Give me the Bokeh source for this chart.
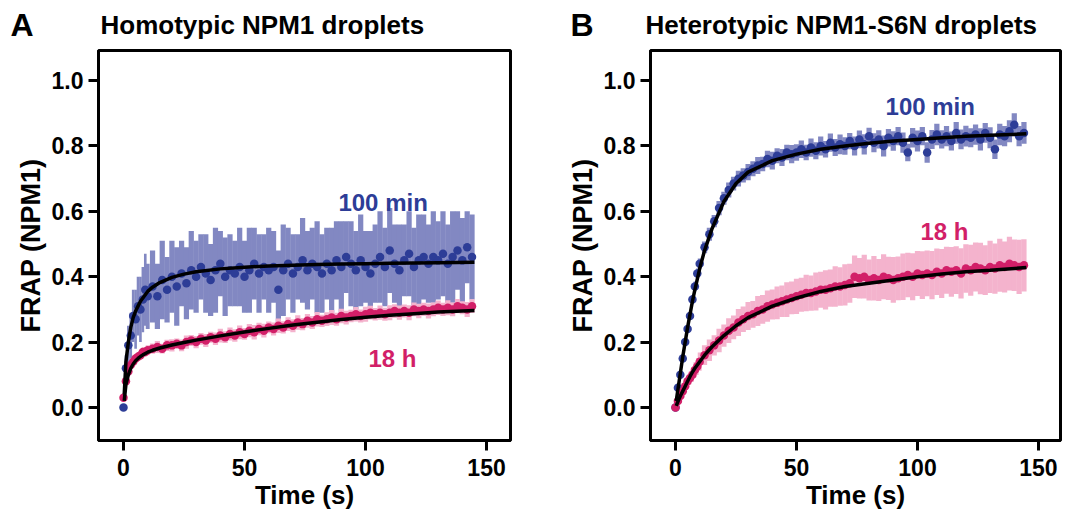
import numpy as np
from bokeh.plotting import figure
from bokeh.layouts import row, column
from bokeh.models import Label, NumeralTickFormatter, FixedTicker, Range1d
from bokeh.core.properties import value
from bokeh.embed import file_html
from bokeh.resources import INLINE

# ---------------- data ----------------
T = [0, 1, 2, 3, 4, 5, 6, 7, 8, 9, 10,
     12, 14, 16, 18, 20, 22, 24, 26, 28, 30,
     32, 34, 36, 38, 40, 42, 44, 46, 48, 50,
     52, 54, 56, 58, 60, 62, 64, 66, 68, 70,
     72, 74, 76, 78, 80, 82, 84, 86, 88, 90,
     92, 94, 96, 98, 100, 102, 104, 106, 108, 110,
     112, 114, 116, 118, 120, 122, 124, 126, 128, 130,
     132, 134, 136, 138, 140, 142, 144]

# Panel A, 100 min (blue)
A_blue = [0.00, 0.12, 0.19, 0.22, 0.28, 0.27, 0.31, 0.30, 0.33, 0.36, 0.34,
          0.37, 0.34, 0.39, 0.36, 0.40, 0.37, 0.41, 0.38, 0.42, 0.40,
          0.43, 0.41, 0.39, 0.42, 0.44, 0.40, 0.42, 0.41, 0.43, 0.40,
          0.42, 0.44, 0.41, 0.43, 0.42, 0.43, 0.36, 0.42, 0.44, 0.41,
          0.43, 0.45, 0.42, 0.44, 0.43, 0.41, 0.44, 0.42, 0.45, 0.43,
          0.46, 0.44, 0.42, 0.45, 0.43, 0.41, 0.44, 0.46, 0.43, 0.48,
          0.44, 0.42, 0.45, 0.47, 0.43, 0.45, 0.46, 0.44, 0.46, 0.45,
          0.47, 0.44, 0.46, 0.48, 0.45, 0.49, 0.46]
A_blue_err = [0.00, 0.04, 0.06, 0.07, 0.08, 0.09, 0.09, 0.10, 0.10, 0.11, 0.10,
              0.11, 0.10, 0.12, 0.10, 0.11, 0.12, 0.10, 0.11, 0.12, 0.11,
              0.10, 0.12, 0.11, 0.13, 0.10, 0.12, 0.11, 0.10, 0.12, 0.11,
              0.13, 0.11, 0.12, 0.10, 0.13, 0.11, 0.12, 0.14, 0.11, 0.12,
              0.10, 0.13, 0.12, 0.11, 0.14, 0.12, 0.11, 0.13, 0.12, 0.14,
              0.11, 0.13, 0.12, 0.14, 0.11, 0.13, 0.12, 0.14, 0.12, 0.13,
              0.12, 0.14, 0.11, 0.13, 0.12, 0.14, 0.13, 0.12, 0.14, 0.12,
              0.13, 0.12, 0.14, 0.12, 0.13, 0.11, 0.13]
# Panel A, 18 h (pink)
A_pink = [0.03, 0.08, 0.11, 0.13, 0.14, 0.15, 0.155, 0.16, 0.17, 0.17, 0.175,
          0.18, 0.185, 0.18, 0.19, 0.19, 0.195, 0.19, 0.20, 0.205, 0.20,
          0.21, 0.205, 0.215, 0.21, 0.22, 0.215, 0.225, 0.22, 0.23, 0.225,
          0.235, 0.23, 0.24, 0.235, 0.245, 0.24, 0.25, 0.245, 0.255, 0.25,
          0.26, 0.255, 0.265, 0.26, 0.27, 0.265, 0.27, 0.275, 0.27, 0.28,
          0.275, 0.28, 0.285, 0.28, 0.285, 0.29, 0.285, 0.29, 0.285, 0.29,
          0.295, 0.29, 0.295, 0.29, 0.30, 0.295, 0.30, 0.295, 0.30, 0.305,
          0.30, 0.305, 0.30, 0.31, 0.305, 0.30, 0.31]
A_pink_err = [0.00, 0.010, 0.010, 0.012, 0.012, 0.013, 0.013, 0.014, 0.014, 0.015, 0.015,
              0.016, 0.018, 0.015, 0.017, 0.019, 0.016, 0.018, 0.020, 0.017, 0.019,
              0.018, 0.020, 0.017, 0.019, 0.021, 0.018, 0.020, 0.019, 0.021, 0.018,
              0.020, 0.022, 0.019, 0.021, 0.018, 0.020, 0.022, 0.019, 0.021, 0.020,
              0.022, 0.019, 0.021, 0.020, 0.022, 0.019, 0.021, 0.023, 0.020, 0.022,
              0.021, 0.019, 0.022, 0.020, 0.023, 0.021, 0.019, 0.022, 0.020, 0.023,
              0.021, 0.022, 0.020, 0.023, 0.021, 0.022, 0.020, 0.023, 0.021, 0.022,
              0.020, 0.023, 0.021, 0.022, 0.020, 0.023, 0.021]

# Panel B, 100 min (blue)
B_blue = [0.00, 0.06, 0.10, 0.15, 0.20, 0.24, 0.28, 0.33, 0.37, 0.41, 0.44,
          0.49, 0.53, 0.57, 0.61, 0.64, 0.665, 0.685, 0.70, 0.71, 0.72,
          0.73, 0.74, 0.745, 0.76, 0.755, 0.77, 0.765, 0.78, 0.775, 0.78,
          0.79, 0.78, 0.795, 0.785, 0.80, 0.79, 0.81, 0.795, 0.805, 0.80,
          0.815, 0.80, 0.82, 0.805, 0.83, 0.81, 0.82, 0.80, 0.825, 0.815,
          0.83, 0.81, 0.78, 0.825, 0.815, 0.83, 0.78, 0.82, 0.835, 0.82,
          0.83, 0.815, 0.84, 0.82, 0.83, 0.825, 0.835, 0.82, 0.84, 0.825,
          0.79, 0.835, 0.83, 0.845, 0.865, 0.83, 0.84]
B_blue_err = [0.00, 0.005, 0.008, 0.010, 0.010, 0.012, 0.012, 0.014, 0.015, 0.015, 0.016,
              0.018, 0.020, 0.019, 0.022, 0.020, 0.023, 0.021, 0.024, 0.022, 0.025,
              0.023, 0.026, 0.022, 0.025, 0.027, 0.023, 0.026, 0.024, 0.028, 0.025,
              0.027, 0.024, 0.028, 0.026, 0.029, 0.025, 0.028, 0.026, 0.030, 0.027,
              0.025, 0.029, 0.027, 0.031, 0.026, 0.029, 0.028, 0.032, 0.027, 0.030,
              0.028, 0.031, 0.027, 0.030, 0.032, 0.028, 0.031, 0.029, 0.033, 0.028,
              0.031, 0.029, 0.033, 0.030, 0.032, 0.029, 0.031, 0.034, 0.030, 0.032,
              0.030, 0.033, 0.031, 0.034, 0.035, 0.031, 0.033]
# Panel B, 18 h (pink)
B_pink = [0.00, 0.02, 0.035, 0.05, 0.065, 0.08, 0.09, 0.10, 0.115, 0.125, 0.14,
          0.16, 0.175, 0.19, 0.205, 0.22, 0.235, 0.245, 0.26, 0.27, 0.28,
          0.285, 0.295, 0.30, 0.31, 0.315, 0.32, 0.325, 0.33, 0.335, 0.34,
          0.345, 0.35, 0.35, 0.355, 0.36, 0.36, 0.365, 0.37, 0.37, 0.375,
          0.38, 0.40, 0.395, 0.40, 0.39, 0.395, 0.39, 0.40, 0.395, 0.39,
          0.395, 0.40, 0.405, 0.40, 0.41, 0.405, 0.41, 0.405, 0.415, 0.41,
          0.42, 0.415, 0.42, 0.41, 0.425, 0.42, 0.43, 0.425, 0.42, 0.43,
          0.425, 0.435, 0.43, 0.44, 0.435, 0.43, 0.435]
B_pink_err = [0.00, 0.005, 0.010, 0.012, 0.015, 0.017, 0.020, 0.022, 0.024, 0.026, 0.028,
              0.030, 0.033, 0.031, 0.036, 0.034, 0.038, 0.036, 0.041, 0.039, 0.043,
              0.041, 0.046, 0.044, 0.048, 0.046, 0.050, 0.048, 0.053, 0.050, 0.054,
              0.052, 0.056, 0.054, 0.058, 0.055, 0.060, 0.057, 0.062, 0.059, 0.063,
              0.060, 0.065, 0.062, 0.067, 0.063, 0.068, 0.064, 0.069, 0.066, 0.070,
              0.067, 0.071, 0.068, 0.072, 0.069, 0.073, 0.070, 0.074, 0.071, 0.075,
              0.072, 0.076, 0.073, 0.077, 0.074, 0.078, 0.075, 0.079, 0.076, 0.080,
              0.077, 0.081, 0.078, 0.082, 0.079, 0.083, 0.080]

# fitted curves
FIT_T = [0.3, 1, 2, 3, 4, 5, 6, 7, 8, 10, 12, 15, 20, 25, 30, 40, 50, 60, 70, 80,
         90, 100, 110, 120, 130, 145]
A_blue_fit = [0.04, 0.14, 0.20, 0.245, 0.275, 0.295, 0.31, 0.325, 0.335, 0.355, 0.368,
              0.382, 0.398, 0.408, 0.415, 0.424, 0.429, 0.433, 0.435, 0.437, 0.439,
              0.440, 0.441, 0.442, 0.443, 0.444]
A_pink_fit = [0.02, 0.07, 0.10, 0.12, 0.133, 0.143, 0.15, 0.156, 0.161, 0.169, 0.175,
              0.182, 0.191, 0.199, 0.206, 0.219, 0.231, 0.242, 0.252, 0.261, 0.269,
              0.276, 0.282, 0.287, 0.292, 0.297]
B_blue_fit = [0.02, 0.055, 0.105, 0.155, 0.20, 0.245, 0.285, 0.325, 0.36, 0.425, 0.48,
              0.545, 0.63, 0.685, 0.72, 0.755, 0.775, 0.79, 0.80, 0.808, 0.815,
              0.82, 0.825, 0.83, 0.833, 0.837]
B_pink_fit = [0.005, 0.018, 0.035, 0.05, 0.065, 0.08, 0.095, 0.108, 0.12, 0.14, 0.16,
              0.185, 0.22, 0.25, 0.275, 0.31, 0.335, 0.355, 0.37, 0.38, 0.39,
              0.40, 0.408, 0.415, 0.42, 0.428]

X_TICKS = [0, 50, 100, 150]
Y_TICKS = [0.0, 0.2, 0.4, 0.6, 0.8, 1.0]
PANEL_LETTERS = ["A", "B"]
PANEL_TITLES = ["Homotypic NPM1 droplets", "Heterotypic NPM1-S6N droplets"]

# ---------------- styling ----------------
FONT = "Liberation Sans"
BLUE = "#2d3d97"
BLUE_LIGHT = "#8288c2"
PINK = "#d21f68"
PINK_LIGHT = "#f4b3cd"
STRIP_H = 44
TEXT_Y = 20


def title_strip(width, letter, title, letter_x, title_x):
    s = figure(width=width, height=STRIP_H, x_range=Range1d(0, width),
               y_range=Range1d(0, STRIP_H), min_border=0,
               x_axis_type=None, y_axis_type=None,
               output_backend="svg", toolbar_location=None)
    s.grid.visible = False
    s.outline_line_color = None
    s.text(x=[letter_x], y=[TEXT_Y], text=[letter], text_font=value(FONT),
           text_font_style=value("bold"), text_font_size=value("32px"),
           text_color="black", text_baseline=value("alphabetic"),
           text_align=value("left"))
    s.text(x=[title_x], y=[TEXT_Y], text=[title], text_font=value(FONT),
           text_font_style=value("bold"), text_font_size=value("26px"),
           text_color="black", text_baseline=value("alphabetic"),
           text_align=value("left"))
    return s


def panel(blue, blue_err, pink, pink_err, blue_fit, pink_fit,
          blue_lbl, pink_lbl, border_left, border_right, frame_w, x_end):
    p = figure(frame_width=frame_w, frame_height=390,
               min_border_left=border_left, min_border_right=border_right,
               min_border_top=6, min_border_bottom=74,
               x_range=Range1d(-10.33, x_end), y_range=Range1d(-0.101, 1.092),
               output_backend="svg", toolbar_location=None, title=None)
    p.grid.visible = False
    p.outline_line_color = "black"
    p.outline_line_width = 3
    p.background_fill_color = "white"
    p.border_fill_color = "white"

    t = np.array(T, dtype=float)
    w = np.gradient(t) * 1.08

    def series(vals, errs, dark, light):
        v = np.array(vals)
        e = np.array(errs)
        p.vbar(x=t, top=v + e, bottom=v - e, width=w, fill_color=light,
               line_color=None)
        p.scatter(x=t, y=v, size=8.5, fill_color=dark, line_color=None)

    series(blue, blue_err, BLUE, BLUE_LIGHT)
    series(pink, pink_err, PINK, PINK_LIGHT)
    p.line(x=FIT_T, y=blue_fit, line_color="black", line_width=3.5)
    p.line(x=FIT_T, y=pink_fit, line_color="black", line_width=3.5)

    for ax in (p.xaxis, p.yaxis):
        ax.axis_line_width = 3
        ax.axis_line_color = "black"
        ax.major_tick_line_width = 3
        ax.major_tick_line_color = "black"
        ax.major_tick_out = 10
        ax.major_tick_in = 0
        ax.minor_tick_line_color = None
        ax.major_label_text_font = FONT
        ax.major_label_text_font_style = "bold"
        ax.major_label_text_font_size = "23px"
        ax.major_label_text_color = "black"
        ax.axis_label_text_font = FONT
        ax.axis_label_text_font_style = "bold"
        ax.axis_label_text_color = "black"
    p.xaxis.ticker = FixedTicker(ticks=X_TICKS)
    p.yaxis.ticker = FixedTicker(ticks=Y_TICKS)
    p.yaxis.formatter = NumeralTickFormatter(format="0.0")
    p.xaxis.axis_label = "Time (s)"
    p.yaxis.axis_label = "FRAP (NPM1)"
    p.xaxis.axis_label_text_font_size = "26px"
    p.yaxis.axis_label_text_font_size = "27px"
    p.xaxis.major_label_standoff = 8
    p.yaxis.major_label_standoff = 5
    p.xaxis.axis_label_standoff = 1
    p.yaxis.axis_label_standoff = 3

    p.add_layout(Label(x=blue_lbl[0], y=blue_lbl[1], text="100 min", text_font=FONT,
                       text_font_style="bold", text_font_size="24px",
                       text_color=BLUE, text_baseline="alphabetic"))
    p.add_layout(Label(x=pink_lbl[0], y=pink_lbl[1], text="18 h", text_font=FONT,
                       text_font_style="bold", text_font_size="24px",
                       text_color=PINK, text_baseline="alphabetic"))
    return p


pA = panel(A_blue, A_blue_err, A_pink, A_pink_err, A_blue_fit, A_pink_fit,
           (88.8, 0.627), (101.2, 0.15), 98, 38, 412, 159.9)
pB = panel(B_blue, B_blue_err, B_pink, B_pink_err, B_blue_fit, B_pink_fit,
           (86.8, 0.92), (101.2, 0.537), 102, 8, 410, 159.1)

sA = title_strip(548, PANEL_LETTERS[0], PANEL_TITLES[0], 10, 100)
sB = title_strip(520, PANEL_LETTERS[1], PANEL_TITLES[1], 22, 97)

layout = column(row(sA, sB), row(pA, pB))
open("out.html", "w").write(file_html(layout, INLINE))
